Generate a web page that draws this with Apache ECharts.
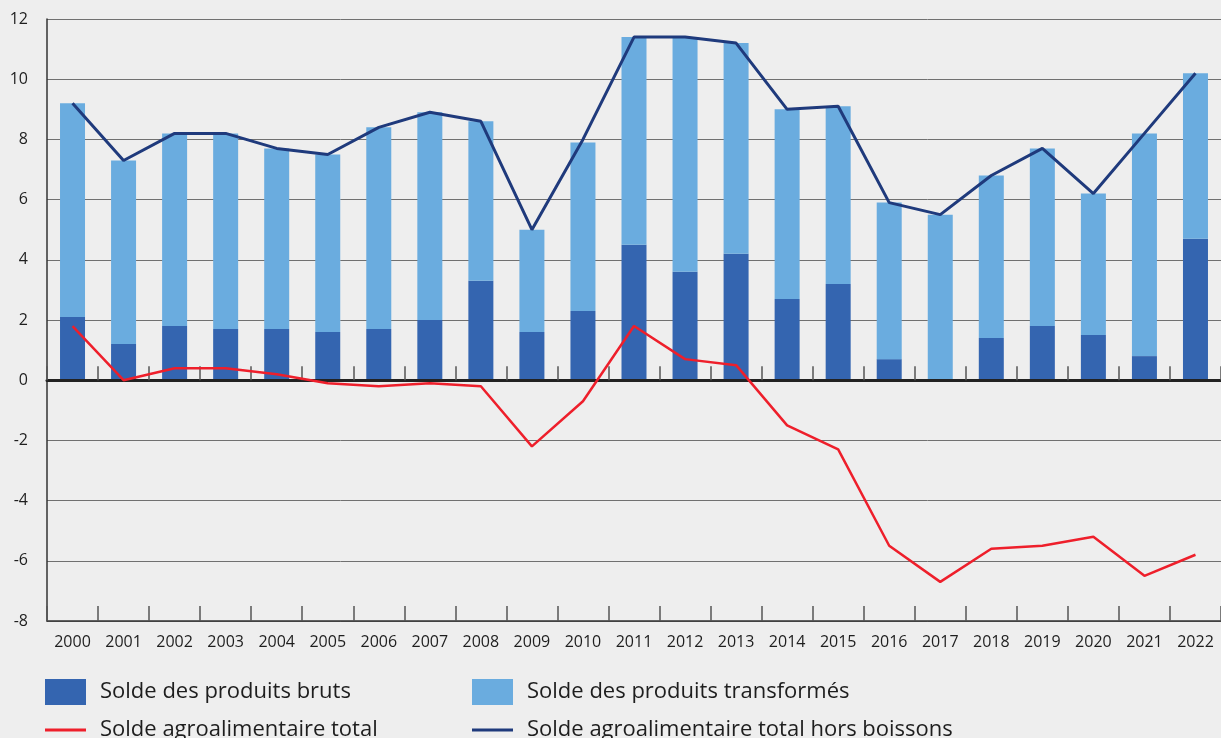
<!DOCTYPE html>
<html><head><meta charset="utf-8">
<script src="https://cdn.jsdelivr.net/npm/echarts@6/dist/echarts.min.js"></script>
<style>html,body{margin:0;padding:0;background:#eeeeee;}#c{width:1221px;height:738px;}</style>
</head><body><div id="c"></div>
<script>
const years = ['2000','2001','2002','2003','2004','2005','2006','2007','2008','2009','2010','2011','2012','2013','2014','2015','2016','2017','2018','2019','2020','2021','2022'];
const bruts = [2.1,1.2,1.8,1.7,1.7,1.6,1.7,2.0,3.3,1.6,2.3,4.5,3.6,4.2,2.7,3.2,0.7,0.0,1.4,1.8,1.5,0.8,4.7];
const transformes = [7.1,6.1,6.4,6.5,6.0,5.9,6.7,6.9,5.3,3.4,5.6,6.9,7.8,7.0,6.3,5.9,5.2,5.5,5.4,5.9,4.7,7.4,5.5];
const total = [1.8,0.0,0.4,0.4,0.2,-0.1,-0.2,-0.1,-0.2,-2.2,-0.7,1.8,0.7,0.5,-1.5,-2.3,-5.5,-6.7,-5.6,-5.5,-5.2,-6.5,-5.8];
const horsBoissons = [9.2,7.3,8.2,8.2,7.7,7.5,8.4,8.9,8.6,5.0,8.0,11.4,11.4,11.2,9.0,9.1,5.9,5.5,6.8,7.7,6.2,8.2,10.2];
const names = ['Solde des produits bruts','Solde des produits transformés','Solde agroalimentaire total','Solde agroalimentaire total hors boissons'];

const FONT = '"Open Sans", sans-serif';
const chart = echarts.init(document.getElementById('c'), null, {renderer:'canvas'});
function lg(name, left, top, isLine){
  return {
    data:[name], left:left, top:top, orient:'horizontal',
    icon:'rect', itemWidth:41, itemHeight: isLine ? 3 : 26,
    selectedMode:false, padding:0,
    textStyle:{fontFamily:FONT, fontSize:22, color:'#1e1e1e', padding:[0,0,0,9]}
  };
}
chart.setOption({
  backgroundColor:'#eeeeee',
  animation:false,
  grid:{left:47, right:0, top:19, bottom:117, containLabel:false},
  legend:[
    lg(names[0], 45, 679, false),
    lg(names[1], 472, 679, false),
    lg(names[2], 45, 719, true),
    lg(names[3], 472, 719, true)
  ],
  xAxis:[
    {type:'category', data:years, boundaryGap:true, position:'bottom',
     axisLine:{onZero:true, lineStyle:{color:'#222', width:3}},
     axisTick:{show:true, inside:true, length:14, lineStyle:{color:'#555', width:1.5}},
     axisLabel:{show:false}, splitLine:{show:false}, z:5},
    {type:'category', data:years, boundaryGap:true, position:'bottom',
     axisLine:{onZero:false, lineStyle:{color:'#333', width:1.5}},
     axisTick:{show:true, inside:true, length:15, lineStyle:{color:'#555', width:1.5}},
     axisLabel:{show:true, fontFamily:FONT, fontSize:16, color:'#1e1e1e', margin:13},
     splitLine:{show:false}}
  ],
  yAxis:{type:'value', min:-8, max:12, interval:2,
    axisLine:{show:true, lineStyle:{color:'#333', width:1.5}},
    axisTick:{show:false},
    axisLabel:{fontFamily:FONT, fontSize:16, color:'#1e1e1e', margin:19},
    splitLine:{show:true, lineStyle:{color:'#707070', width:1}}
  },
  series:[
    {name:names[0], type:'bar', stack:'s', data:bruts, barWidth:25, itemStyle:{color:'#3465b0'}, xAxisIndex:0},
    {name:names[1], type:'bar', stack:'s', data:transformes, barWidth:25, itemStyle:{color:'#6aacdf'}, xAxisIndex:0},
    {name:names[2], type:'line', data:total, symbol:'none', lineStyle:{color:'#ee1f2b', width:2.5}, itemStyle:{color:'#ee1f2b'}, xAxisIndex:0, z:6},
    {name:names[3], type:'line', data:horsBoissons, symbol:'none', lineStyle:{color:'#1f3a7c', width:3}, itemStyle:{color:'#1f3a7c'}, xAxisIndex:0, z:6}
  ]
});
</script></body></html>
